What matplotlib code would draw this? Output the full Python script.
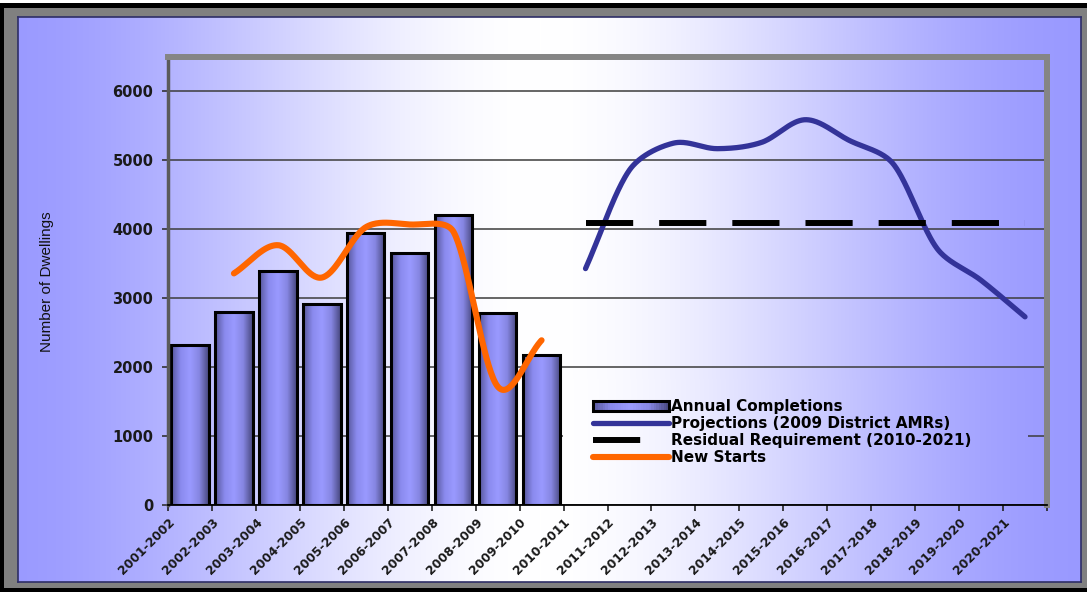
import numpy as np
import matplotlib
matplotlib.use("Agg")
import matplotlib.pyplot as plt
from matplotlib.colors import LinearSegmentedColormap, to_rgb
from matplotlib.legend_handler import HandlerBase
from matplotlib.lines import Line2D
from matplotlib.patches import Rectangle

years = ["2001-2002", "2002-2003", "2003-2004", "2004-2005", "2005-2006",
         "2006-2007", "2007-2008", "2008-2009", "2009-2010", "2010-2011",
         "2011-2012", "2012-2013", "2013-2014", "2014-2015", "2015-2016",
         "2016-2017", "2017-2018", "2018-2019", "2019-2020", "2020-2021"]

# annual completions, 2001-2002 .. 2009-2010
completions = [2320, 2800, 3400, 2910, 3940, 3650, 4210, 2780, 2170]

# new starts, 2002-2003 .. 2009-2010
starts_first = "2002-2003"
new_starts = [3360, 3770, 3300, 4030, 4070, 3960, 1720, 2390]

# projections and residual requirement, 2010-2011 .. 2020-2021
proj_first = "2010-2011"
projections = [3430, 4860, 5250, 5170, 5260, 5590, 5290, 4950, 3720, 3260, 2730]
residual = [4090, 4090, 4090, 4090, 4090, 4090, 4090, 4090, 4090, 4090, 4090]

W, H = 1087, 592
PERI = np.array(to_rgb("#9999ff"))


def wash(px):
    # periwinkle -> white -> periwinkle across the width, by pixel column
    u = np.clip(np.abs(px - 540.0) / 560.0, 0, 1)
    t = 3 * u ** 2 - 2 * u ** 3
    return (1 - t)[:, None] * np.ones(3) + t[:, None] * PERI


bar_cmap = LinearSegmentedColormap.from_list(
    "barshade", ["#56569a", "#8a8aee", "#9a9aff", "#8686e2", "#48487f"])


class GradientBarHandler(HandlerBase):
    def create_artists(self, legend, orig_handle, xdescent, ydescent,
                       width, height, fontsize, trans):
        n = 30
        out = []
        for k in range(n):
            out.append(Rectangle((-xdescent + width * k / n, -ydescent), width / n + 0.3,
                                 height, facecolor=bar_cmap((k + 0.5) / n),
                                 edgecolor="none", transform=trans))
        out.append(Rectangle((-xdescent, -ydescent), width, height, facecolor="none",
                             edgecolor="black", lw=2.2, transform=trans))
        return out


def smooth(ax, xs, ys, steps=40):
    # catmull-rom style bezier in screen space, arms capped at a third of the segment
    pts = ax.transData.transform(np.column_stack([xs, ys]))
    n = len(pts)
    seg = np.hypot(*np.diff(pts, axis=0).T)

    def cap(v, limit):
        ln = np.hypot(*v)
        return v if ln <= limit else v * limit / ln

    fwd, back = [None] * n, [None] * n
    fwd[0] = (pts[1] - pts[0]) / 3
    back[-1] = (pts[-1] - pts[-2]) / 3
    for i in range(1, n - 1):
        d = (pts[i + 1] - pts[i - 1]) / 6
        fwd[i] = cap(d, seg[i] / 3)
        back[i] = cap(d, seg[i - 1] / 3)
    t = np.linspace(0, 1, steps)[:, None]
    out = [pts[:1]]
    for i in range(n - 1):
        p0, p3 = pts[i], pts[i + 1]
        p1 = p0 + fwd[i]
        p2 = p3 - back[i + 1]
        b = ((1 - t) ** 3) * p0 + 3 * ((1 - t) ** 2) * t * p1 + 3 * (1 - t) * t ** 2 * p2 + t ** 3 * p3
        out.append(b[1:])
    return ax.transData.inverted().transform(np.vstack(out))


fig = plt.figure(figsize=(W / 100, H / 100), dpi=100, facecolor="black")

# frame
fig.patches.append(Rectangle((0, (H - 3) / H), 1, 3 / H, transform=fig.transFigure,
                             facecolor="white", edgecolor="none", zorder=-3))
fig.patches.append(Rectangle((4 / W, (H - 588) / H), (W - 4) / W, 580 / H,
                             transform=fig.transFigure, facecolor="#808080",
                             edgecolor="none", zorder=-2))

bg = fig.add_axes([18 / W, (H - 582) / H, (1081 - 18) / W, (582 - 17) / H])
bg.imshow(wash(np.arange(18, 1081))[None], aspect="auto", extent=[0, 1, 0, 1])
bg.set_xticks([])
bg.set_yticks([])
for s in bg.spines.values():
    s.set_color("#2e2e66")
    s.set_linewidth(1.2)

fig.text(47 / W, 1 - 282 / H, "Number of Dwellings", rotation=90, ha="center",
         va="center", family="Liberation Sans", fontsize=11, color="#111111")

ax = fig.add_axes([168 / W, (H - 505) / H, 879 / W, 448 / H])
ax.patch.set_visible(False)
ax.imshow(wash(np.linspace(168, 1047, 500))[None], aspect="auto", extent=[0, 1, 0, 1],
          transform=ax.transAxes, zorder=0)

# cover behind legend hides the gridlines there
lx0, lx1, ly0, ly1 = 0.449, 0.978, 0.004, 0.28
ax.imshow(wash(np.linspace(168 + lx0 * 879, 168 + lx1 * 879, 300))[None], aspect="auto",
          extent=[lx0, lx1, ly0, ly1], transform=ax.transAxes, zorder=0.7)

xb = np.arange(len(completions))
bars = ax.bar(xb, completions, width=0.85, facecolor="none", edgecolor="black",
              lw=2.2, zorder=2)
shade = bar_cmap(np.linspace(0, 1, 64))[None]
for b in bars:
    ax.imshow(shade, aspect="auto", zorder=1.9,
              extent=[b.get_x(), b.get_x() + b.get_width(), 0, b.get_height()])

ax.set_xlim(-0.5, len(years) - 0.5)
ax.set_ylim(0, 6500)

xs = years.index(starts_first) + np.arange(len(new_starts))
xp = years.index(proj_first) + np.arange(len(projections))

sp = smooth(ax, xp, projections)
proj_line, = ax.plot(sp[:, 0], sp[:, 1], color="#333399", lw=3.8,
                     solid_capstyle="round", zorder=3)
ax.plot(xp, residual, color="black", lw=4.3, dashes=(7.9, 4.35),
        dash_capstyle="butt", zorder=3)
ss = smooth(ax, xs, new_starts)
start_line, = ax.plot(ss[:, 0], ss[:, 1], color="#ff6600", lw=4.4,
                      solid_capstyle="round", zorder=3)

ax.set_yticks(np.arange(0, 7000, 1000))
ax.set_yticklabels([str(v) for v in range(0, 7000, 1000)], fontsize=10.5,
                   fontweight="bold", color="#1a1a1a")
ax.set_xticks(np.arange(-0.5, len(years), 1))
ax.set_xticklabels(years + [""], rotation=45, ha="right", va="top",
                   rotation_mode="anchor", fontsize=8.8, fontweight="bold",
                   color="#1a1a1a")
ax.tick_params(axis="y", length=4.5, width=1.2, pad=6, color="#333333")
ax.tick_params(axis="x", length=4.5, width=1.2, pad=3, color="#222222")

ax.set_axisbelow(True)
ax.yaxis.grid(True, color="#3c3c3c", lw=1.1)

ax.spines["left"].set_color("#5a5a5a")
ax.spines["left"].set_linewidth(2.5)
for side in ("top", "right"):
    ax.spines[side].set_color("#858585")
    ax.spines[side].set_linewidth(4.3)
ax.spines["bottom"].set_color("black")
ax.spines["bottom"].set_linewidth(1.3)

res_key = Line2D([], [], color="black", lw=4.3, linestyle=(0, (7.9, 8)),
                 dash_capstyle="butt")
ax.legend([Rectangle((0, 0), 1, 1), proj_line, res_key, start_line],
          ["Annual Completions", "Projections (2009 District AMRs)",
           "Residual Requirement (2010-2021)", "New Starts"],
          handler_map={Rectangle: GradientBarHandler()},
          loc="upper left", bbox_to_anchor=(0.483, 0.236), frameon=False,
          borderpad=0, borderaxespad=0, handlelength=5.0, handletextpad=0.15,
          labelspacing=0.13, prop={"family": "DejaVu Sans", "weight": "bold", "size": 11})

fig.savefig("out.png", dpi=100, facecolor=fig.get_facecolor())
